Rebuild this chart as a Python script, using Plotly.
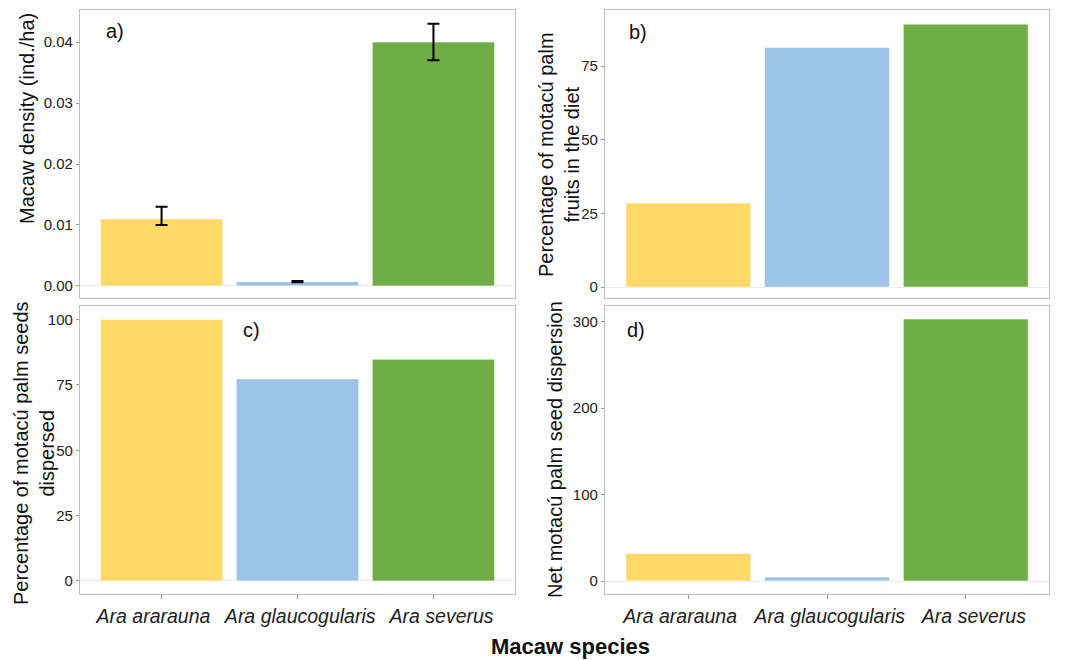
import plotly.graph_objects as go

species = ["Ara ararauna", "Ara glaucogularis", "Ara severus"]
bar_colors = ["#FED966", "#9DC3E6", "#70AD47"]

density = [0.011, 0.0007, 0.040]
density_lo = [0.010, 0.0006, 0.037]
density_hi = [0.013, 0.0008, 0.043]
diet_pct = [28.5, 81.3, 89.2]
dispersed_pct = [100, 77.3, 84.8]
net_dispersion = [31.7, 4.6, 303]

FONT = "Liberation Sans, Arial, sans-serif"
W, H = 1069, 660
NB = "\u00a0"

# tick text padded slightly so labels sit where the reference draws them
tick_text = [species[0] + NB * 3, NB + species[1], NB * 3 + species[2]]

fig = go.Figure()

err_plus = [h - v for h, v in zip(density_hi, density)]
err_minus = [v - l for v, l in zip(density, density_lo)]

common_bar = dict(marker=dict(color=bar_colors, line=dict(color="rgba(255,255,255,0.6)", width=1)),
                  width=0.9, showlegend=False, hoverinfo="x+y")

fig.add_trace(go.Bar(x=species, y=density, xaxis="x", yaxis="y",
                     error_y=dict(type="data", array=err_plus, arrayminus=err_minus,
                                  color="black", thickness=2, width=6),
                     **common_bar))
fig.add_trace(go.Bar(x=species, y=diet_pct, xaxis="x2", yaxis="y2", **common_bar))
fig.add_trace(go.Bar(x=species, y=dispersed_pct, xaxis="x3", yaxis="y3", **common_bar))
fig.add_trace(go.Bar(x=species, y=net_dispersion, xaxis="x4", yaxis="y4", **common_bar))

xl = [80 / W, 515 / W]
xr = [605 / W, 1049 / W]
yt = [1 - 298 / H, 1 - 10 / H]
yb = [1 - 594 / H, 1 - 306 / H]

frame = dict(showline=True, mirror=True, linecolor="#BFBFBF", linewidth=1.3, showgrid=False)

def xaxis(dom, anchor, bottom):
    d = dict(domain=dom, anchor=anchor, range=[-0.6, 2.6], type="category",
             categoryorder="array", categoryarray=species, automargin=False, **frame)
    if bottom:
        d.update(ticks="outside", ticklen=4, tickcolor="#999999", showticklabels=True,
                 tickvals=species, ticktext=tick_text, tickangle=0,
                 tickfont=dict(family=FONT, size=19.5, color="#222222", style="italic"))
    else:
        d.update(ticks="", showticklabels=False)
    return d

def yaxis(dom, anchor, rng, tickvals, fmt):
    return dict(domain=dom, anchor=anchor, range=rng, tickvals=tickvals, tickformat=fmt,
                ticks="outside", ticklen=3, tickcolor="#999999", automargin=False,
                tickfont=dict(family=FONT, size=15, color="#222222"),
                zeroline=True, zerolinecolor="#EBEBEB", zerolinewidth=1, **frame)

fig.update_layout(
    width=W, height=H,
    margin=dict(l=0, r=0, t=0, b=0),
    paper_bgcolor="white", plot_bgcolor="white",
    bargap=0.1,
    xaxis=xaxis(xl, "y", False),
    yaxis=yaxis(yt, "x", [-0.00197, 0.04525], [0, 0.01, 0.02, 0.03, 0.04], ".2f"),
    xaxis2=xaxis(xr, "y2", False),
    yaxis2=yaxis(yt, "x2", [-3.7, 94], [0, 25, 50, 75], "d"),
    xaxis3=xaxis(xl, "y3", True),
    yaxis3=yaxis(yb, "x3", [-5, 105.2], [0, 25, 50, 75, 100], "d"),
    xaxis4=xaxis(xr, "y4", True),
    yaxis4=yaxis(yb, "x4", [-15, 318], [0, 100, 200, 300], "d"),
    font=dict(family=FONT, color="#111111"),
)

def ann(text, x, y, size, angle=0, bold=False):
    fig.add_annotation(text=(f"<b>{text}</b>" if bold else text), x=x / W, y=1 - y / H,
                       xref="paper", yref="paper", showarrow=False, textangle=angle,
                       xanchor="center", yanchor="middle",
                       font=dict(family=FONT, size=size, color="#111111"))

# Axis titles
ann("Macaw density (ind./ha)", 27, 119, 20, -90)
ann("Percentage of motacú palm<br>fruits in the diet", 559, 155, 20, -90)
ann("Percentage of motacú palm seeds<br>dispersed", 34, 453, 20, -90)
ann("Net motacú palm seed dispersion", 555, 450, 20, -90)
ann("Macaw species", 570, 646, 22, 0, True)

# Panel labels
ann("a)", 115, 31, 20)
ann("b)", 638, 32, 20)
ann("c)", 251, 330, 20)
ann("d)", 636, 330, 20)

fig.write_html("out.html", config={"displayModeBar": False},
               post_script="document.body.style.margin='0px';document.body.style.overflow='hidden';")
